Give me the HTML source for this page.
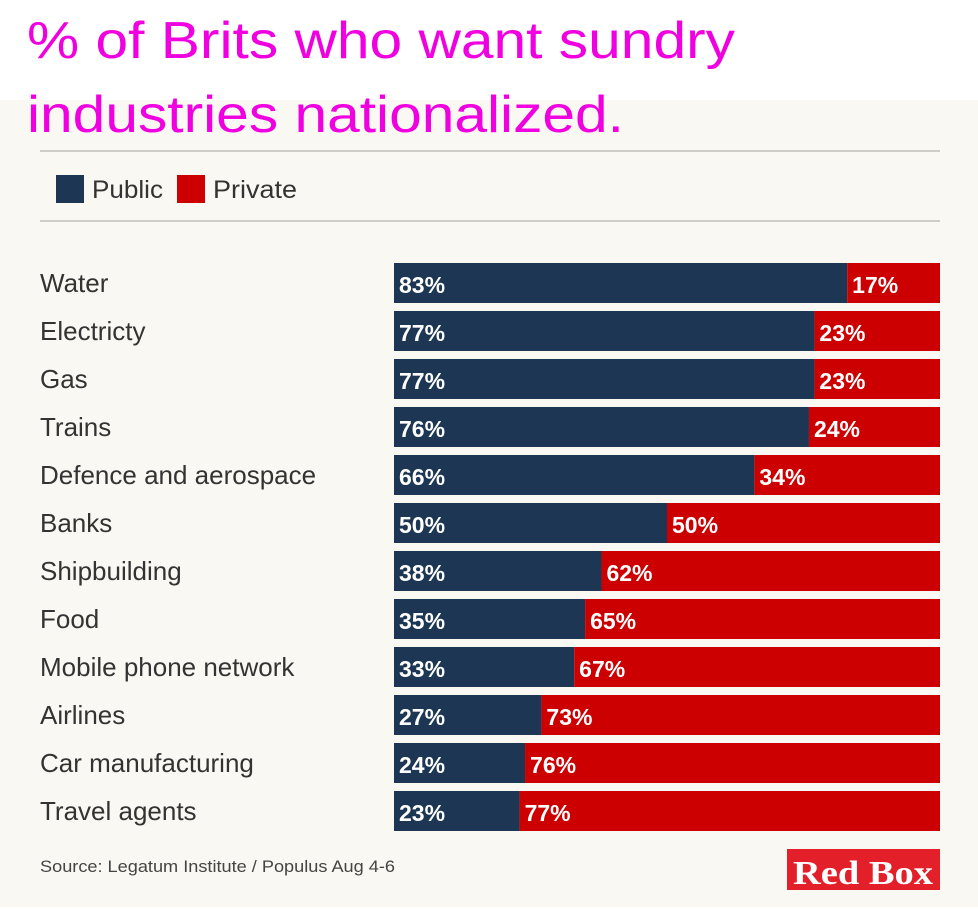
<!DOCTYPE html>
<html><head><meta charset="utf-8"><style>
body{margin:0;width:978px;height:907px;overflow:hidden;background:#fff;font-family:"Liberation Sans",sans-serif}
</style></head><body>
<svg width="978" height="907" xmlns="http://www.w3.org/2000/svg">
<rect x="0" y="100" width="978" height="807" fill="#faf8f3"/>
<text x="27" y="58" font-size="52" fill="#f000e0" textLength="708" lengthAdjust="spacingAndGlyphs">% of Brits who want sundry</text>
<text x="27" y="132" font-size="52" fill="#f000e0" textLength="597" lengthAdjust="spacingAndGlyphs">industries nationalized.</text>
<line x1="40" y1="151" x2="940" y2="151" stroke="#cfcdc8" stroke-width="2"/>
<line x1="40" y1="221" x2="940" y2="221" stroke="#cfcdc8" stroke-width="2"/>
<g>
<rect x="56" y="175" width="28" height="28" fill="#1c3653"/>
<text x="92" y="198" font-size="25" fill="#333" textLength="71" lengthAdjust="spacingAndGlyphs">Public</text>
<rect x="177" y="175" width="28" height="28" fill="#cc0000"/>
<text x="213" y="198" font-size="25" fill="#333" textLength="84" lengthAdjust="spacingAndGlyphs">Private</text>
</g>
<g id="bars"></g>
<text x="40" y="872" font-size="17" fill="#444" textLength="355" lengthAdjust="spacingAndGlyphs">Source: Legatum Institute / Populus Aug 4-6</text>
<rect x="787" y="849" width="153" height="41" fill="#e3202a"/>
<text x="863" y="884" font-size="34" font-weight="bold" fill="#fff" text-anchor="middle" font-family="Liberation Serif,serif" textLength="140" lengthAdjust="spacingAndGlyphs">Red Box</text>
</svg>
<script>
const categories=["Water","Electricty","Gas","Trains","Defence and aerospace","Banks","Shipbuilding","Food","Mobile phone network","Airlines","Car manufacturing","Travel agents"];
const publicVals=[83,77,77,76,66,50,38,35,33,27,24,23];
const privateVals=[17,23,23,24,34,50,62,65,67,73,76,77];
const NS="http://www.w3.org/2000/svg";
const g=document.getElementById('bars');
const x0=394,W=546;
const xs=v=>v/100*W;
const yRow=i=>263+48*i;
function mk(tag,attrs){const e=document.createElementNS(NS,tag);for(const k in attrs)e.setAttribute(k,attrs[k]);g.appendChild(e);return e;}
categories.forEach((c,i)=>{
  const y=yRow(i),tot=publicVals[i]+privateVals[i];
  const pw=xs(publicVals[i]/tot*100), rw=xs(privateVals[i]/tot*100);
  const lab=mk('text',{x:40,y:y+29,'font-size':26,fill:'#333'});lab.textContent=c;
  
  
  const b1=mk('rect',{x:x0,y:y,width:pw,height:40,fill:'#1c3653'});
  
  
  const b2=mk('rect',{x:x0+pw,y:y,width:rw,height:40,fill:'#cc0000'});
  
  
  const t1=mk('text',{x:x0+5,y:y+30,'font-size':23,'font-weight':'bold',fill:'#fff'});t1.textContent=publicVals[i]+'%';
  
  
  const t2=mk('text',{x:x0+pw+5,y:y+30,'font-size':23,'font-weight':'bold',fill:'#fff'});t2.textContent=privateVals[i]+'%';
  
  
});
</script>
</body></html>
